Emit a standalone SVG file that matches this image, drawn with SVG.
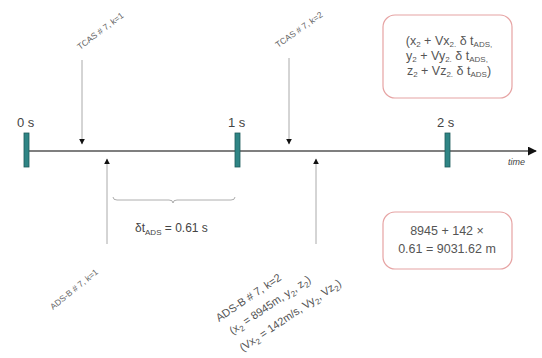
<svg xmlns="http://www.w3.org/2000/svg" width="542" height="358" viewBox="0 0 542 358">
  <defs>
    <marker id="tip" viewBox="0 0 10 10" refX="9" refY="5" markerWidth="6" markerHeight="6" orient="auto" markerUnits="userSpaceOnUse">
      <path d="M0,0 L10,5 L0,10 z" fill="#111"/>
    </marker>
    <marker id="axisTip" viewBox="0 0 10 10" refX="9" refY="5" markerWidth="9" markerHeight="9" orient="auto" markerUnits="userSpaceOnUse">
      <path d="M0,0 L10,5 L0,10 z" fill="#111"/>
    </marker>
    <style>
      text { font-family: "Liberation Sans", Arial, sans-serif; fill: #444; }
      .tick { fill: #2f8585; stroke: #1d5a5a; stroke-width: 0.8; }
      .sec { font-size: 13px; }
      .small { font-size: 8.5px; fill: #666; }
      .adsb { font-size: 11px; fill: #555; }
      .box { fill: #fff; stroke: #e6a3a3; stroke-width: 1.2; }
      .boxtext { font-size: 12.5px; fill: #555; text-anchor: middle; }
      .feed { stroke: #aaa; stroke-width: 1; fill: none; marker-end: url(#tip); }
      .sub { font-size: 8px; }
    </style>
  </defs>
  <rect width="542" height="358" fill="#fff"/>

  <!-- time axis -->
  <g id="axis">
    <line x1="29" y1="151" x2="536" y2="151" stroke="#555" stroke-width="1.6" marker-end="url(#axisTip)"/>
    <text x="508" y="165" font-size="9" font-style="italic" fill="#777">time</text>
  </g>

  <!-- second ticks -->
  <g id="tick0">
    <rect class="tick" x="24" y="133" width="5" height="34"/>
    <text class="sec" x="17" y="127">0 s</text>
  </g>
  <g id="tick1">
    <rect class="tick" x="235" y="133" width="5" height="34"/>
    <text class="sec" x="228" y="127">1 s</text>
  </g>
  <g id="tick2">
    <rect class="tick" x="445" y="133" width="5" height="34"/>
    <text class="sec" x="437" y="127">2 s</text>
  </g>

  <!-- incoming reports -->
  <g id="connectors">
    <line class="feed" x1="82" y1="60" x2="82" y2="144"/>
    <line class="feed" x1="289" y1="58" x2="289" y2="144"/>
    <line class="feed" x1="107" y1="244" x2="107" y2="159"/>
    <line class="feed" x1="316" y1="244" x2="316" y2="159"/>
    <!-- interval brace -->
    <path d="M113,197 Q113,200 117,200 L169,200 Q173,200 173,203 Q173,200 177,200 L231,200 Q235,200 235,197" fill="none" stroke="#999" stroke-width="0.8"/>
  </g>

  <g id="tcas1">
    <text class="small" transform="translate(80,50) rotate(-37)">TCAS # 7, k=1</text>
  </g>
  <g id="tcas2">
    <text class="small" transform="translate(278,48) rotate(-35)">TCAS # 7, k=2</text>
  </g>
  <g id="adsb1">
    <text class="small" transform="translate(53,310) rotate(-39)">ADS-B # 7, k=1</text>
  </g>
  <g id="adsb2">
    <g transform="translate(219,322) rotate(-34)">
      <text class="adsb" x="0" y="0">ADS-B # 7, k=2</text>
      <text class="adsb" x="4" y="18">(x<tspan class="sub" dy="3">2</tspan><tspan dy="-3"> = 8945m, y</tspan><tspan class="sub" dy="3">2</tspan><tspan dy="-3">, z</tspan><tspan class="sub" dy="3">2</tspan><tspan dy="-3">)</tspan></text>
      <text class="adsb" x="3" y="38">(Vx<tspan class="sub" dy="3">2</tspan><tspan dy="-3"> = 142m/s, Vy</tspan><tspan class="sub" dy="3">2</tspan><tspan dy="-3">, Vz</tspan><tspan class="sub" dy="3">2</tspan><tspan dy="-3">)</tspan></text>
    </g>
  </g>

  <g id="delta">
    <text x="135" y="232" font-size="12" fill="#444">δt<tspan class="sub" dy="3">ADS</tspan><tspan dy="-3"> = 0.61 s</tspan></text>
  </g>

  <!-- predicted position -->
  <g id="formula">
    <rect class="box" x="383" y="15" width="129" height="83" rx="12"/>
    <text class="boxtext" x="449" y="45">(x<tspan class="sub" dy="2">2</tspan><tspan dy="-2"> + Vx</tspan><tspan class="sub" dy="2">2.</tspan><tspan dy="-2"> δ t</tspan><tspan class="sub" dy="2">ADS,</tspan></text>
    <text class="boxtext" x="447" y="60">y<tspan class="sub" dy="2">2</tspan><tspan dy="-2"> + Vy</tspan><tspan class="sub" dy="2">2.</tspan><tspan dy="-2"> δ t</tspan><tspan class="sub" dy="2">ADS,</tspan></text>
    <text class="boxtext" x="449" y="75">z<tspan class="sub" dy="2">2</tspan><tspan dy="-2"> + Vz</tspan><tspan class="sub" dy="2">2.</tspan><tspan dy="-2"> δ t</tspan><tspan class="sub" dy="2">ADS</tspan><tspan dy="-2">)</tspan></text>
  </g>
  <g id="result">
    <rect class="box" x="383" y="212" width="129" height="57" rx="12"/>
    <text class="boxtext" x="447" y="235">8945 + 142 ×</text>
    <text class="boxtext" x="447" y="253">0.61 = 9031.62 m</text>
  </g>
</svg>
